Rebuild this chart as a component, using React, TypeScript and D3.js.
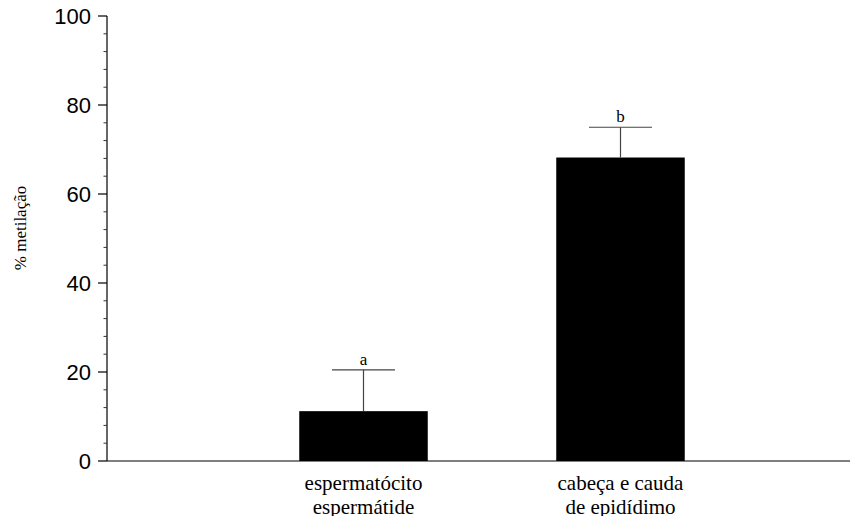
import React from "react";
import * as d3 from "d3";

const categories = [["espermatócito", "espermátide"], ["cabeça e cauda", "de epidídimo"]];
const categoryKeys = ["c1", "c2"];
const values = [11.2, 68.2];
const errors = [9.3, 6.8];
const letters = ["a", "b"];
const yTicks = [0, 20, 40, 60, 80, 100];

const W = 867;
const H = 516;
const SERIF = "'Liberation Serif', 'Times New Roman', serif";
const SANS = "'Liberation Sans', Arial, sans-serif";

export default function App() {
  const y = d3.scaleLinear().domain([0, 100]).range([461, 16]);
  const x = d3.scaleBand().domain(categoryKeys).range([235, 749]).paddingInner(0.5).paddingOuter(0.25);
  const minor = d3.range(0, 101, 4).filter((v) => v % 20 !== 0);
  const axisX = 107;
  const capW = 63;
  return (
    <div style={{ position: "absolute", left: 0, top: 0 }}>
      <svg width={W} height={H} style={{ display: "block", background: "#fff" }}>
        {categoryKeys.map((k, i) => {
          const x0 = x(k)!;
          const bw = x.bandwidth();
          const cx = x0 + bw / 2;
          const top = y(values[i]);
          const et = y(values[i] + errors[i]);
          return (
            <g key={k}>
              <rect x={x0} y={top} width={bw} height={y(0) - top} fill="#000" />
              <line x1={cx} x2={cx} y1={top} y2={et} stroke="#444" strokeWidth={1.2} />
              <line x1={cx - capW / 2} x2={cx + capW / 2} y1={et} y2={et} stroke="#444" strokeWidth={1.2} />
              <text x={cx} y={et - 5} textAnchor="middle" style={{ fontFamily: SERIF, fontSize: 17 }} fill="#000">
                {letters[i]}
              </text>
              {categories[i].map((line, j) => (
                <text key={j} x={cx} y={490 + j * 24} textAnchor="middle" style={{ fontFamily: SERIF, fontSize: 21 }} fill="#000">
                  {line}
                </text>
              ))}
            </g>
          );
        })}
        <line x1={axisX} x2={axisX} y1={y(100)} y2={y(0)} stroke="#000" strokeWidth={1.2} />
        <line x1={axisX} x2={850} y1={y(0)} y2={y(0)} stroke="#000" strokeWidth={1.2} />
        {yTicks.map((t) => (
          <g key={t}>
            <line x1={axisX - 9} x2={axisX} y1={y(t)} y2={y(t)} stroke="#000" strokeWidth={1.2} />
            <text x={91} y={y(t)} dy="0.36em" textAnchor="end" style={{ fontFamily: SANS, fontSize: 22 }} fill="#000">
              {t}
            </text>
          </g>
        ))}
        {minor.map((t) => (
          <line key={t} x1={axisX - 3.5} x2={axisX} y1={y(t)} y2={y(t)} stroke="#333" strokeWidth={1} />
        ))}
        <text
          transform={`translate(26,228) rotate(-90)`}
          textAnchor="middle"
          style={{ fontFamily: SERIF, fontSize: 17 }}
          fill="#000"
        >
          % metilação
        </text>
      </svg>
    </div>
  );
}
